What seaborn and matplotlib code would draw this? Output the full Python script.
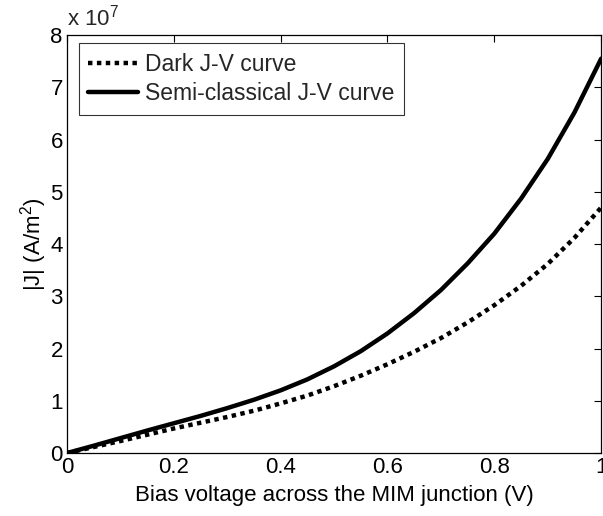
import numpy as np
import pandas as pd
import matplotlib
matplotlib.use("Agg")
import matplotlib.pyplot as plt
import seaborn as sns

# Data (|J| in units of 1e7 A/m^2)
voltage = [0.0, 0.05, 0.1, 0.15, 0.2, 0.25, 0.3, 0.35, 0.4, 0.45, 0.5,
           0.55, 0.6, 0.65, 0.7, 0.75, 0.8, 0.85, 0.9, 0.95, 1.0]
dark_j = [0.0, 0.115, 0.23, 0.35, 0.47, 0.58, 0.69, 0.81, 0.95, 1.10, 1.28,
          1.48, 1.70, 1.94, 2.20, 2.50, 2.83, 3.20, 3.62, 4.12, 4.70]
semi_j = [0.0, 0.14, 0.285, 0.43, 0.57, 0.71, 0.86, 1.02, 1.20, 1.41, 1.66,
          1.95, 2.29, 2.68, 3.12, 3.63, 4.20, 4.87, 5.63, 6.52, 7.55]
series_names = ["Dark J-V curve", "Semi-classical J-V curve"]
x_ticks = [0, 0.2, 0.4, 0.6, 0.8, 1]
x_ticklabels = ["0", "0.2", "0.4", "0.6", "0.8", "1"]
y_ticks = [0, 1, 2, 3, 4, 5, 6, 7, 8]

sns.set_theme(style="white")
plt.rcParams["font.family"] = ["Liberation Sans", "DejaVu Sans"]
plt.rcParams["mathtext.fontset"] = "custom"
plt.rcParams["mathtext.rm"] = "Liberation Sans"
plt.rcParams["mathtext.it"] = "Liberation Sans:italic"

df = pd.DataFrame({
    "V": voltage * 2,
    "J": dark_j + semi_j,
    "curve": [series_names[0]] * len(voltage) + [series_names[1]] * len(voltage),
})

fig = plt.figure(figsize=(6.03, 5.16), dpi=100)
ax = fig.add_axes([0.111, 0.122, 0.886, 0.81])

sns.lineplot(data=df, x="V", y="J", hue="curve", style="curve",
             palette=["black", "black"],
             dashes={series_names[0]: (1, 1), series_names[1]: ""},
             linewidth=3.2, ax=ax, legend=True)
for line in ax.get_lines():
    line.set_solid_joinstyle("round")
    line.set_dash_capstyle("butt")

ax.set_xlim(0, 1)
ax.set_ylim(0, 8)
ax.set_xticks(x_ticks)
ax.set_xticklabels(x_ticklabels)
ax.set_yticks(y_ticks)
ax.set_yticklabels([str(t) for t in y_ticks])
ax.tick_params(direction="in", length=5, width=0.8, top=True, right=True,
               labelsize=16, colors="black", pad=3)
for s in ax.spines.values():
    s.set_color("black")
    s.set_linewidth(0.9)

ax.set_xlabel("Bias voltage across the MIM junction (V)", fontsize=16, color="black", labelpad=5)
ax.set_ylabel("|J| (A/m$^2$)", fontsize=16, color="black", labelpad=1)
ax.text(0.0, 1.01, r"x 10$^7$", transform=ax.transAxes, fontsize=16,
        ha="left", va="bottom")

leg = ax.legend(loc="upper left", bbox_to_anchor=(0.022, 0.98), borderaxespad=0,
                fontsize=16.5, frameon=True, fancybox=False,
                edgecolor="black", handlelength=2.2,
                borderpad=0.4, labelspacing=0.3, handletextpad=0.3)
leg.get_frame().set_linewidth(0.8)
for line in leg.get_lines():
    line.set_linewidth(3.2)

fig.savefig("out.png", dpi=100)
